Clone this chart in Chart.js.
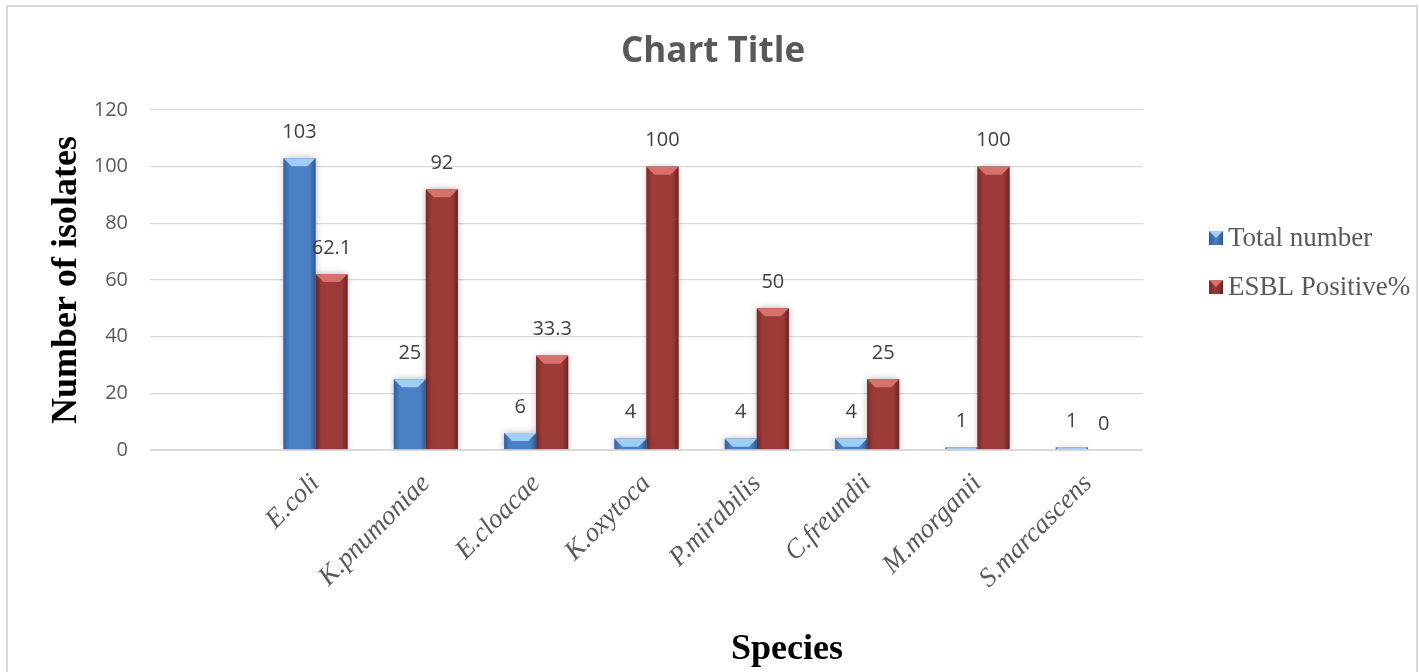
<!DOCTYPE html>
<html><head><meta charset="utf-8">
<script src="https://cdn.jsdelivr.net/npm/chart.js@4.4.0/dist/chart.umd.min.js"></script>
<style>html,body{margin:0;padding:0;background:#fff;}#wrap{width:1419px;height:672px;position:relative;}</style>
</head><body><div id="wrap"><canvas id="c" width="1419" height="672"></canvas></div>
<script>
// ---- data ----
const categories = ['', 'E.coli', 'K.pnumoniae', 'E.cloacae', 'K.oxytoca', 'P.mirabilis', 'C.freundii', 'M.morganii', 'S.marcascens'];
const totalNumber = [null, 103, 25, 6, 4, 4, 4, 1, 1];
const esblPositive = [null, 62.1, 92, 33.3, 100, 50, 25, 100, 0];
const seriesNames = ['Total number', 'ESBL Positive%'];
const yTickValues = [0, 20, 40, 60, 80, 100, 120];
const chartTitle = 'Chart Title';
const yAxisTitle = 'Number of isolates';
const xAxisTitle = 'Species';

const palettes = [
  {main: '#4a80c4', edge: '#30609f', edgeR: '#2c5894', top: '#9fcdf5', legend: '#4a80c4'},
  {main: '#9c3b38', edge: '#7a2b29', edgeR: '#6a2422', top: '#d8706c', legend: '#9c3b38'}
];

const framePlugin = {
  id: 'frame',
  beforeDraw(chart) {
    const ctx = chart.ctx;
    ctx.save();
    ctx.fillStyle = '#ffffff';
    ctx.fillRect(0, 0, chart.width, chart.height);
    ctx.strokeStyle = '#d9d9d9';
    ctx.lineWidth = 2;
    ctx.strokeRect(7, 6, chart.width - 9, chart.height + 20);
    // chart title
    ctx.fillStyle = '#595959';
    ctx.font = 'bold 35px "Open Sans"';
    ctx.textAlign = 'center';
    ctx.textBaseline = 'middle';
    ctx.fillText(chartTitle, 713, 52);
    // x axis title
    ctx.fillStyle = '#000000';
    ctx.font = 'bold 36px "Liberation Serif"';
    ctx.fillText(xAxisTitle, 787, 650);
    ctx.restore();
  }
};

const barStylePlugin = {
  id: 'barStyle',
  beforeDatasetDraw(chart) {
    const ctx = chart.ctx;
    ctx.save();
    ctx.shadowColor = 'rgba(0,0,0,0.30)';
    ctx.shadowBlur = 7;
  },
  afterDatasetDraw(chart, args) {
    const ctx = chart.ctx;
    ctx.restore();
    const meta = args.meta;
    const pal = palettes[args.index];
    const ds = chart.data.datasets[args.index].data;
    ctx.save();
    meta.data.forEach((el, i) => {
      if (ds[i] === null || ds[i] === undefined) return;
      const {x, y, base, width} = el.getProps(['x', 'y', 'base', 'width'], true);
      const l = x - width / 2, r = x + width / 2, h = base - y;
      if (h <= 0) return;
      const g = ctx.createLinearGradient(l, 0, r, 0);
      g.addColorStop(0, pal.edge);
      g.addColorStop(0.18, pal.main);
      g.addColorStop(0.82, pal.main);
      g.addColorStop(1, pal.edgeR);
      ctx.fillStyle = g;
      ctx.fillRect(l, y, width, h);
      const b = Math.min(8, h);
      ctx.fillStyle = pal.top;
      ctx.beginPath();
      ctx.moveTo(l, y); ctx.lineTo(r, y); ctx.lineTo(r - b, y + b); ctx.lineTo(l + b, y + b);
      ctx.closePath(); ctx.fill();
    });
    ctx.restore();
  },
  afterDatasetsDraw(chart) {
    const ctx = chart.ctx;
    ctx.save();
    ctx.fillStyle = '#404040';
    ctx.font = '20px "Open Sans"';
    ctx.textAlign = 'center';
    ctx.textBaseline = 'middle';
    chart.data.datasets.forEach((ds, di) => {
      const meta = chart.getDatasetMeta(di);
      meta.data.forEach((el, i) => {
        const v = ds.data[i];
        if (v === null || v === undefined) return;
        const {x, y} = el.getProps(['x', 'y'], true);
        ctx.fillText(String(v), x, y - 26);
      });
    });
    // legend
    ctx.font = '27px "Liberation Serif"';
    ctx.textAlign = 'left';
    ctx.fillStyle = '#595959';
    const ly = [238, 287];
    seriesNames.forEach((name, i) => {
      const pal = palettes[i];
      const bx = 1209, by = ly[i] - 7, bs = 14;
      const g = ctx.createLinearGradient(bx, 0, bx + bs, 0);
      g.addColorStop(0, pal.edge); g.addColorStop(0.5, pal.main); g.addColorStop(1, pal.edgeR);
      ctx.fillStyle = g;
      ctx.fillRect(bx, by, bs, bs);
      ctx.fillStyle = pal.top;
      ctx.beginPath(); ctx.moveTo(bx, by); ctx.lineTo(bx + bs, by); ctx.lineTo(bx + bs / 2, by + bs / 2); ctx.closePath(); ctx.fill();
      ctx.fillStyle = '#595959';
      ctx.fillText(name, 1228, ly[i] + 1);
    });
    ctx.restore();
  }
};

new Chart(document.getElementById('c'), {
  type: 'bar',
  data: {
    labels: categories,
    datasets: [
      {label: seriesNames[0], data: totalNumber, backgroundColor: palettes[0].main},
      {label: seriesNames[1], data: esblPositive, backgroundColor: palettes[1].main}
    ]
  },
  options: {
    responsive: false,
    animation: false,
    devicePixelRatio: 1,
    layout: {padding: {top: 110, right: 276, bottom: 0, left: 0}},
    datasets: {bar: {categoryPercentage: 0.58, barPercentage: 1.0}},
    plugins: {legend: {display: false}, title: {display: false}, tooltip: {enabled: false}},
    scales: {
      x: {
        grid: {display: false, drawTicks: false},
        border: {display: false},
        ticks: {
          autoSkip: false, maxRotation: 45, minRotation: 45, padding: 18,
          color: '#595959', font: {family: '"Liberation Serif"', style: 'italic', size: 27}
        },
        title: {display: false},
        afterFit(scale) { scale.height = 222; }
      },
      y: {
        min: 0, max: 120,
        afterBuildTicks(scale) { scale.ticks = yTickValues.map(v => ({value: v})); },
        grid: {color: '#d9d9d9', lineWidth: ctx => ctx.tick && ctx.tick.value === 0 ? 2 : 1.3, drawTicks: false},
        border: {display: false},
        ticks: {padding: 22, color: '#595959', font: {family: '"Open Sans"', size: 20}},
        title: {display: true, text: yAxisTitle, color: '#000000', padding: {top: 45, bottom: 0},
          font: {family: '"Liberation Serif"', weight: 'bold', size: 36}},
        afterFit(scale) { scale.width = 150; }
      }
    }
  },
  plugins: [framePlugin, barStylePlugin]
});
</script>
</body></html>
